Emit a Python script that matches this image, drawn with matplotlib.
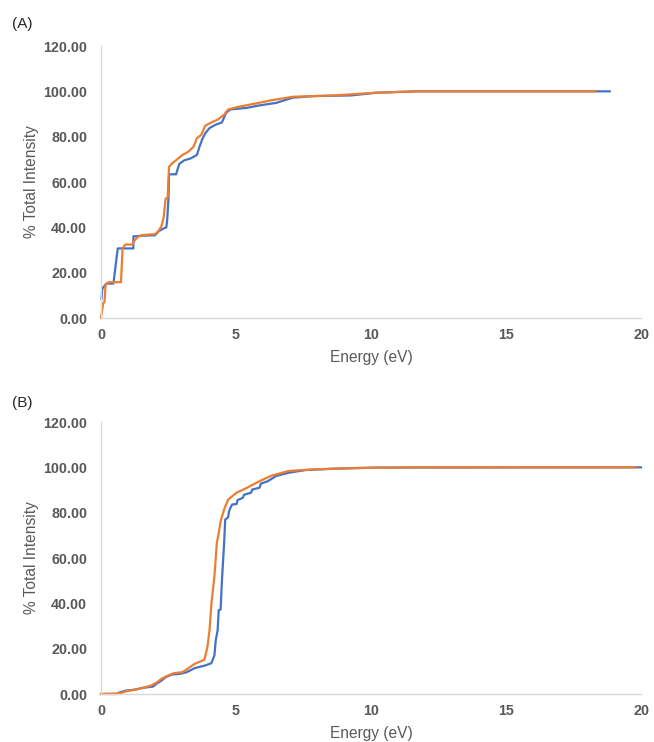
import matplotlib
matplotlib.use('Agg')
import matplotlib.pyplot as plt

plt.rcParams['font.family'] = ['Liberation Sans', 'DejaVu Sans']

BLUE = '#4472c4'
ORANGE = '#ed7d31'
TEXT = '#595959'
SPINE = '#d9d9d9'

# panel A
a_blue_x = [0.02, 0.05, 0.2, 0.46, 0.62, 1.2, 1.2, 1.5, 2.0, 2.15, 2.3, 2.42, 2.45, 2.5, 2.52,
            2.78, 2.9, 3.09, 3.32, 3.55, 3.65, 3.74, 3.86, 4.02, 4.25, 4.48, 4.63, 4.79, 5.4,
            5.87, 6.49, 7.1, 7.9, 9.27, 10.2, 11.7, 18.84]
a_blue_y = [8.5, 13.0, 15.2, 15.2, 30.7, 30.7, 36.0, 36.3, 36.5, 38.4, 39.4, 40.0, 43.0, 53.0, 63.4,
            63.4, 68.0, 69.6, 70.4, 71.9, 75.6, 78.6, 81.5, 83.8, 85.3, 86.3, 90.5, 92.0, 92.7,
            93.8, 94.9, 97.2, 97.9, 98.2, 99.4, 100.0, 100.0]
a_orange_x = [0.0, 0.08, 0.13, 0.17, 0.28, 0.74, 0.8, 0.9, 1.17, 1.24, 1.36, 1.54, 2.0, 2.13, 2.24,
              2.32, 2.39, 2.47, 2.52, 2.63, 2.78, 3.01, 3.24, 3.43, 3.55, 3.71, 3.86, 4.09, 4.32,
              4.56, 4.71, 5.1, 5.71, 6.33, 7.1, 8.65, 10.2, 11.7, 18.3]
a_orange_y = [0.0, 6.4, 7.1, 14.6, 15.8, 15.8, 30.7, 32.4, 32.4, 34.2, 35.7, 36.6, 37.0, 38.4, 40.6,
              44.3, 52.5, 53.3, 66.7, 68.2, 69.6, 71.9, 73.4, 75.6, 79.3, 80.8, 84.8, 86.3, 87.5,
              89.7, 92.0, 93.2, 94.6, 96.1, 97.6, 98.2, 99.4, 100.0, 100.0]

# panel B
b_blue_x = [0.0, 0.59, 0.69, 0.93, 1.24, 1.54, 1.93, 2.04, 2.24, 2.39, 2.63, 2.93, 3.17, 3.47, 3.86,
            4.09, 4.2, 4.25, 4.32, 4.36, 4.43, 4.48, 4.56, 4.6, 4.71, 4.74, 4.82, 4.86, 5.02, 5.06,
            5.25, 5.3, 5.56, 5.6, 5.87, 5.92, 6.18, 6.49, 6.95, 7.57, 8.65, 10.2, 20.0]
b_blue_y = [0.0, 0.0, 0.7, 1.5, 1.9, 2.7, 3.3, 4.4, 5.9, 7.4, 8.6, 8.9, 9.6, 11.4, 12.6,
            13.6, 17.0, 23.7, 28.1, 37.0, 37.3, 50.3, 66.6, 76.9, 78.0, 80.5, 82.8, 83.6, 83.8, 85.6,
            86.5, 87.9, 88.8, 90.2, 91.0, 92.8, 93.9, 96.2, 97.6, 98.8, 99.4, 99.9, 100.0]
b_orange_x = [0.0, 0.7, 0.93, 1.39, 1.85, 2.08, 2.24, 2.47, 2.7, 3.01, 3.24, 3.47, 3.83, 3.94, 4.02,
              4.09, 4.2, 4.29, 4.36, 4.43, 4.56, 4.71, 5.02, 5.41, 5.87, 6.33, 6.95, 7.88, 9.42,
              11.7, 19.8]
b_orange_y = [0.0, 0.3, 1.2, 2.2, 3.7, 5.2, 6.7, 8.1, 9.2, 9.6, 11.4, 13.3, 15.1, 20.7, 28.1,
              39.9, 51.8, 66.6, 71.0, 76.2, 81.4, 85.8, 88.8, 91.0, 93.9, 96.4, 98.4, 99.1, 99.7,
              100.0, 100.0]

y_ticks = [0, 20, 40, 60, 80, 100, 120]
x_ticks = [0, 5, 10, 15, 20]


def style_axes(ax):
    for side in ('top', 'right'):
        ax.spines[side].set_visible(False)
    for side in ('left', 'bottom'):
        ax.spines[side].set_color(SPINE)
        ax.spines[side].set_linewidth(1.0)
    ax.set_xlim(0, 20)
    ax.set_ylim(0, 120)
    ax.set_xticks(x_ticks)
    ax.set_yticks(y_ticks)
    ax.set_yticklabels([f'{v:.2f}' for v in y_ticks])
    ax.tick_params(length=0, labelsize=10.3, labelcolor=TEXT)
    ax.tick_params(axis='y', pad=10)
    ax.tick_params(axis='x', pad=7)
    for lab in ax.get_xticklabels() + ax.get_yticklabels():
        lab.set_fontweight('bold')
    ax.set_xlabel('Energy (eV)', fontsize=11.2, color=TEXT, labelpad=6)
    ax.set_ylabel('% Total Intensity', fontsize=11.2, color=TEXT, labelpad=3)


fig = plt.figure(figsize=(6.54, 7.42), dpi=100)
ax_a = fig.add_axes([101 / 654, 1 - 318 / 742, 540 / 654, 272 / 742])
ax_b = fig.add_axes([101 / 654, 1 - 694 / 742, 540 / 654, 272 / 742])

ax_a.plot(a_blue_x, a_blue_y, color=BLUE, lw=1.6, clip_on=False)
ax_a.plot(a_orange_x, a_orange_y, color=ORANGE, lw=1.6, clip_on=False)
ax_b.plot(b_blue_x, b_blue_y, color=BLUE, lw=1.6, clip_on=False)
ax_b.plot(b_orange_x, b_orange_y, color=ORANGE, lw=1.6, clip_on=False)

for ax in (ax_a, ax_b):
    style_axes(ax)

fig.text(12 / 654, 1 - 24 / 742, '(A)', fontsize=11, color='#262626', va='center')
fig.text(12 / 654, 1 - 403 / 742, '(B)', fontsize=11, color='#262626', va='center')

fig.savefig('out.png', dpi=100, facecolor='white')
